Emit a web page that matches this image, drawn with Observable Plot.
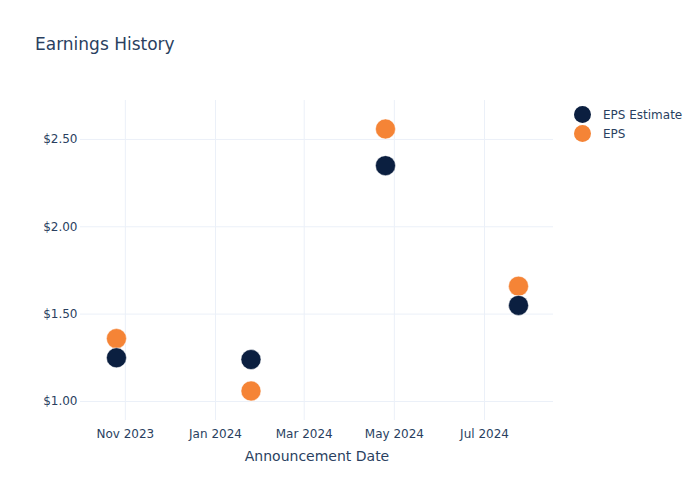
<!DOCTYPE html>
<html>
<head>
<meta charset="utf-8">
<script src="https://cdn.jsdelivr.net/npm/d3@7"></script>
<script src="https://cdn.jsdelivr.net/npm/@observablehq/plot@0.6"></script>
<style>
  html, body { margin: 0; padding: 0; background: #fff; }
  #wrap { position: relative; width: 700px; height: 500px; font-family: "DejaVu Sans", sans-serif; color: #2a3f5f; }
  #title { position: absolute; left: 35px; top: 34px; font-size: 17px; white-space: nowrap; }
  #legend { position: absolute; left: 574px; top: 105px; font-size: 12px; }
  .item { display: flex; align-items: center; height: 19px; }
  .sw { width: 17px; height: 17px; border-radius: 50%; margin-right: 12px; }
</style>
</head>
<body>
<div id="wrap">
  <div id="chart"></div>
  <div id="title">Earnings History</div>
  <div id="legend"></div>
</div>
<script>
const dates = ["2023-10-26", "2024-01-25", "2024-04-25", "2024-07-24"];
const epsEstimate = [1.25, 1.24, 2.35, 1.55];
const eps = [1.36, 1.06, 2.56, 1.66];
const seriesNames = ["EPS Estimate", "EPS"];
const seriesColors = ["#0b1f40", "#f58436"];
const yTicks = [1.0, 1.5, 2.0, 2.5];
const xTicks = ["2023-11-01", "2024-01-01", "2024-03-01", "2024-05-01", "2024-07-01"];

const parse = d3.utcParse("%Y-%m-%d");
const estData = dates.map((d, i) => ({date: parse(d), value: epsEstimate[i], series: seriesNames[0]}));
const epsData = dates.map((d, i) => ({date: parse(d), value: eps[i], series: seriesNames[1]}));

const chart = Plot.plot({
  width: 700,
  height: 500,
  marginLeft: 80,
  marginRight: 147,
  marginTop: 100,
  marginBottom: 80,
  style: {fontFamily: "DejaVu Sans, sans-serif", fontSize: "12px", color: "#2a3f5f", background: "#fff"},
  x: {
    type: "utc",
    domain: [new Date(Date.UTC(2023, 9, 1, 16)), new Date(Date.UTC(2024, 7, 16, 16))],
    label: null
  },
  y: {
    domain: [0.891, 2.723],
    label: null
  },
  marks: [
    Plot.gridX(xTicks.map(parse), {stroke: "#ebf0f8", strokeOpacity: 1, strokeWidth: 1}),
    Plot.gridY(yTicks, {stroke: "#ebf0f8", strokeOpacity: 1, strokeWidth: 1}),
    Plot.axisX({ticks: xTicks.map(parse), tickFormat: d3.utcFormat("%b %Y"), tickSize: 0, tickPadding: 9, label: null, fill: "#2a3f5f"}),
    Plot.axisY({ticks: yTicks, tickFormat: d => "$" + d.toFixed(2), tickSize: 0, tickPadding: 3, label: null, fill: "#2a3f5f"}),
    Plot.dot(epsData, {x: "date", y: "value", r: 10, fill: seriesColors[1], stroke: "#fff", strokeWidth: 0.5}),
    Plot.dot(estData, {x: "date", y: "value", r: 10, fill: seriesColors[0], stroke: "#fff", strokeWidth: 0.5}),
    Plot.text(["Announcement Date"], {frameAnchor: "bottom", dy: 40, fontSize: 14, fill: "#2a3f5f"})
  ]
});
document.getElementById("chart").appendChild(chart);

const legend = document.getElementById("legend");
seriesNames.forEach((name, i) => {
  const item = document.createElement("div");
  item.className = "item";
  const sw = document.createElement("div");
  sw.className = "sw";
  sw.style.background = seriesColors[i];
  const label = document.createElement("span");
  label.textContent = name;
  item.appendChild(sw);
  item.appendChild(label);
  legend.appendChild(item);
});
</script>
</body>
</html>
